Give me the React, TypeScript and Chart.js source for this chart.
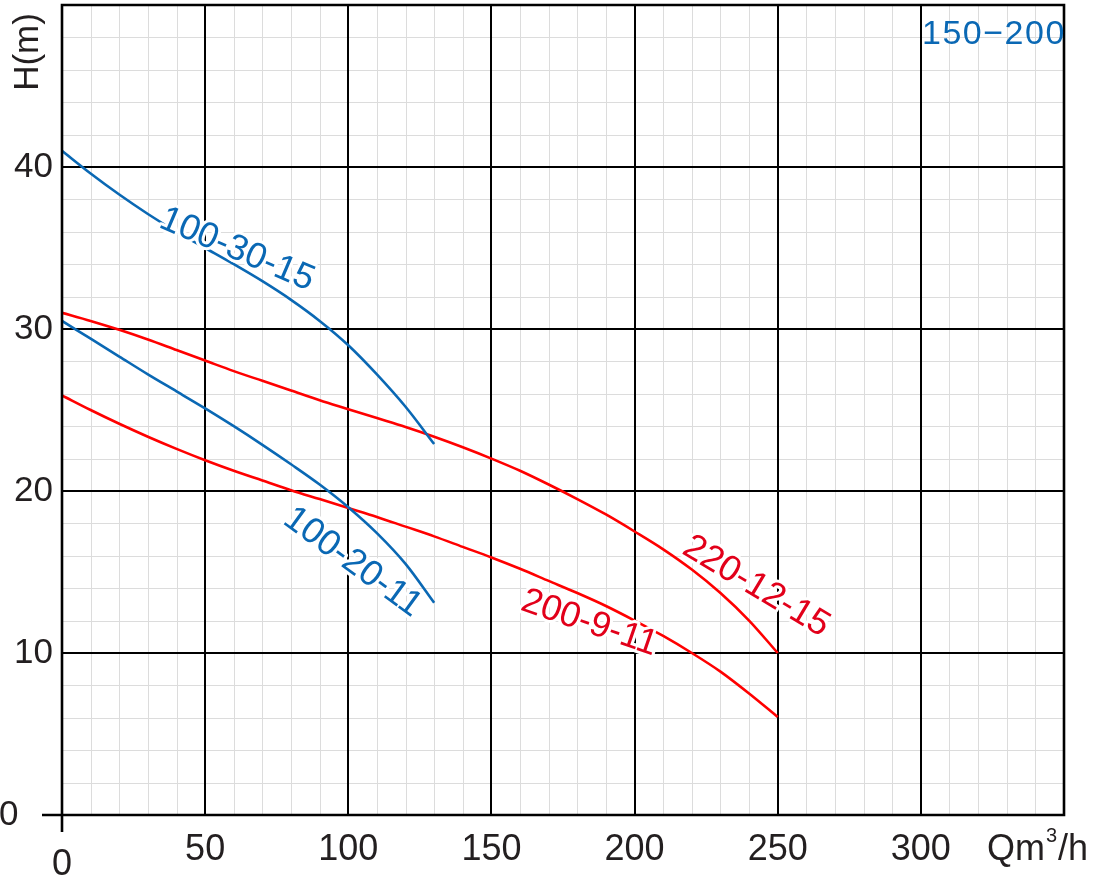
import React, { useEffect, useRef } from "react";
import { Chart, registerables } from "chart.js";

Chart.register(...registerables);

const xTicks = [0, 50, 100, 150, 200, 250, 300];
const yTicks = [0, 10, 20, 30, 40];

const q100_30_15 = [0, 10, 20, 30, 40, 50, 60, 70, 80, 90, 100, 110, 120, 130];
const h100_30_15 = [41.0, 39.6, 38.3, 37.1, 36.0, 35.0, 34.0, 32.95, 31.8, 30.5, 29.0, 27.2, 25.2, 22.9];

const q100_20_11 = [0, 10, 20, 30, 40, 50, 60, 70, 80, 90, 100, 110, 120, 130];
const h100_20_11 = [30.5, 29.4, 28.3, 27.2, 26.15, 25.1, 24.0, 22.85, 21.65, 20.4, 19.0, 17.4, 15.5, 13.1];

const q220_12_15 = [0, 10, 20, 30, 40, 50, 60, 70, 80, 90, 100, 110, 120, 130, 140, 150, 160, 170, 180, 190, 200, 210, 220, 230, 240, 250];
const h220_12_15 = [31.0, 30.5, 29.95, 29.35, 28.7, 28.05, 27.4, 26.8, 26.2, 25.6, 25.05, 24.5, 23.95, 23.35, 22.7, 22.0, 21.25, 20.4, 19.5, 18.55, 17.5, 16.4, 15.15, 13.7, 12.0, 10.0];

const q200_9_11 = [0, 10, 20, 30, 40, 50, 60, 70, 80, 90, 100, 110, 120, 130, 140, 150, 160, 170, 180, 190, 200, 210, 220, 230, 240, 250];
const h200_9_11 = [25.9, 25.0, 24.15, 23.35, 22.6, 21.9, 21.25, 20.65, 20.05, 19.5, 18.95, 18.4, 17.8, 17.2, 16.55, 15.9, 15.2, 14.45, 13.7, 12.9, 12.0, 11.05, 10.0, 8.85, 7.5, 6.05];

const BLUE = "#0a68b4";
const RED = "#ff0000";
const RED_TEXT = "#e2001a";
const TEXT = "#231f20";
const FONT = "'Liberation Sans', Arial, sans-serif";

// curve labels: [text, Q, H, angle(deg), color]
const curveLabels: [string, number, number, number, string][] = [
  ["100-30-15", 61.1, 34.9, 23, BLUE],
  ["100-20-11", 101.5, 15.6, 36, BLUE],
  ["200-9-11", 184.2, 11.85, 19, RED_TEXT],
  ["220-12-15", 242.5, 14.1, 31, RED_TEXT],
];

const toPts = (xs: number[], ys: number[]) => xs.map((x, i) => ({ x, y: ys[i] }));

const gridPlugin = {
  id: "customGrid",
  beforeDatasetsDraw(chart: any) {
    const { ctx, chartArea, scales } = chart;
    const xs = scales.x;
    const ys = scales.y;
    ctx.save();
    ctx.strokeStyle = "#dcdcdc";
    ctx.lineWidth = 1;
    for (let v = 0; v <= 350; v += 10) {
      if (v % 50 === 0) continue;
      const px = Math.round(xs.getPixelForValue(v)) + 0.5;
      ctx.beginPath();
      ctx.moveTo(px, chartArea.top);
      ctx.lineTo(px, chartArea.bottom);
      ctx.stroke();
    }
    for (let v = 0; v <= 50; v += 2) {
      if (v % 10 === 0) continue;
      const py = Math.round(ys.getPixelForValue(v)) + 0.5;
      ctx.beginPath();
      ctx.moveTo(chartArea.left, py);
      ctx.lineTo(chartArea.right, py);
      ctx.stroke();
    }
    ctx.strokeStyle = "#000";
    ctx.lineWidth = 2;
    for (let v = 50; v < 350; v += 50) {
      const px = Math.round(xs.getPixelForValue(v));
      ctx.beginPath();
      ctx.moveTo(px, chartArea.top);
      ctx.lineTo(px, chartArea.bottom);
      ctx.stroke();
    }
    for (let v = 10; v < 50; v += 10) {
      const py = Math.round(ys.getPixelForValue(v));
      ctx.beginPath();
      ctx.moveTo(chartArea.left, py);
      ctx.lineTo(chartArea.right, py);
      ctx.stroke();
    }
    ctx.restore();
  },
  afterDatasetsDraw(chart: any) {
    const { ctx, scales } = chart;
    const xs = scales.x;
    const ys = scales.y;
    ctx.save();
    ctx.strokeStyle = "#000";
    ctx.lineWidth = 2.6;
    const l = Math.round(xs.getPixelForValue(0));
    const r = Math.round(xs.getPixelForValue(350));
    const t = Math.round(ys.getPixelForValue(50));
    const b = Math.round(ys.getPixelForValue(0));
    ctx.beginPath();
    ctx.moveTo(l - 20, b);
    ctx.lineTo(r, b);
    ctx.lineTo(r, t);
    ctx.lineTo(l, t);
    ctx.lineTo(l, b + 17);
    ctx.stroke();

    for (const [txt, q, h, ang, col] of curveLabels) {
      ctx.save();
      ctx.translate(xs.getPixelForValue(q), ys.getPixelForValue(h));
      ctx.rotate((ang * Math.PI) / 180);
      ctx.font = `36px ${FONT}`;
      ctx.textAlign = "center";
      ctx.textBaseline = "middle";
      ctx.lineJoin = "round";
      ctx.strokeStyle = "#fff";
      ctx.lineWidth = 6;
      ctx.strokeText(txt, 0, 0);
      ctx.fillStyle = col;
      ctx.fillText(txt, 0, 0);
      ctx.restore();
    }

    ctx.font = `34px ${FONT}`;
    ctx.fillStyle = BLUE;
    ctx.textAlign = "left";
    ctx.textBaseline = "alphabetic";
    (ctx as any).letterSpacing = "1.5px";
    ctx.fillText("150\u2212200", xs.getPixelForValue(300.4), ys.getPixelForValue(47.6));
    (ctx as any).letterSpacing = "0px";

    ctx.fillStyle = TEXT;
    ctx.font = `36px ${FONT}`;
    ctx.textAlign = "center";
    ctx.textBaseline = "alphabetic";
    for (const v of xTicks) {
      const px = xs.getPixelForValue(v);
      if (v === 0) ctx.fillText("0", px, b + 60);
      else ctx.fillText(String(v), px, b + 45);
    }
    ctx.textAlign = "left";
    ctx.fillText("Qm", 987, b + 45);
    const wQm = ctx.measureText("Qm").width;
    ctx.font = `20px ${FONT}`;
    ctx.fillText("3", 987 + wQm + 1, b + 27);
    const w3 = ctx.measureText("3").width;
    ctx.font = `36px ${FONT}`;
    ctx.fillText("/h", 987 + wQm + w3 + 2, b + 45);

    ctx.textBaseline = "middle";
    ctx.font = `35px ${FONT}`;
    for (const v of yTicks) {
      const py = ys.getPixelForValue(v);
      if (v === 0) {
        ctx.textAlign = "left";
        ctx.fillText("0", -1, py);
      } else {
        ctx.textAlign = "right";
        ctx.fillText(String(v), 53, py);
      }
    }
    ctx.save();
    ctx.translate(28, 52);
    ctx.rotate(-Math.PI / 2);
    ctx.textAlign = "center";
    ctx.textBaseline = "middle";
    ctx.font = `35px ${FONT}`;
    ctx.fillText("H(m)", 0, 0);
    ctx.restore();

    ctx.restore();
  },
};

export default function App() {
  const ref = useRef<HTMLCanvasElement>(null);
  useEffect(() => {
    if (!ref.current) return;
    const ds = (label: string, xs: number[], ys: number[], color: string) => ({
      label,
      data: toPts(xs, ys),
      borderColor: color,
      backgroundColor: color,
      borderWidth: 2.6,
      pointRadius: 0,
      fill: false,
      cubicInterpolationMode: "monotone" as const,
    });
    const chart = new Chart(ref.current, {
      type: "line",
      data: {
        datasets: [
          ds("100-30-15", q100_30_15, h100_30_15, BLUE),
          ds("100-20-11", q100_20_11, h100_20_11, BLUE),
          ds("220-12-15", q220_12_15, h220_12_15, RED),
          ds("200-9-11", q200_9_11, h200_9_11, RED),
        ],
      },
      options: {
        responsive: false,
        animation: false,
        layout: { padding: { left: 62, top: 5, right: 30, bottom: 62 } },
        plugins: { legend: { display: false }, tooltip: { enabled: false } },
        scales: {
          x: { type: "linear", min: 0, max: 350, display: false },
          y: { type: "linear", min: 0, max: 50, display: false },
        },
      },
      plugins: [gridPlugin],
    });
    return () => chart.destroy();
  }, []);
  return (
    <div style={{ position: "fixed", left: 0, top: 0, width: 1094, height: 877, background: "#fff" }}>
      <canvas ref={ref} width={1094} height={877} style={{ display: "block" }} />
    </div>
  );
}
